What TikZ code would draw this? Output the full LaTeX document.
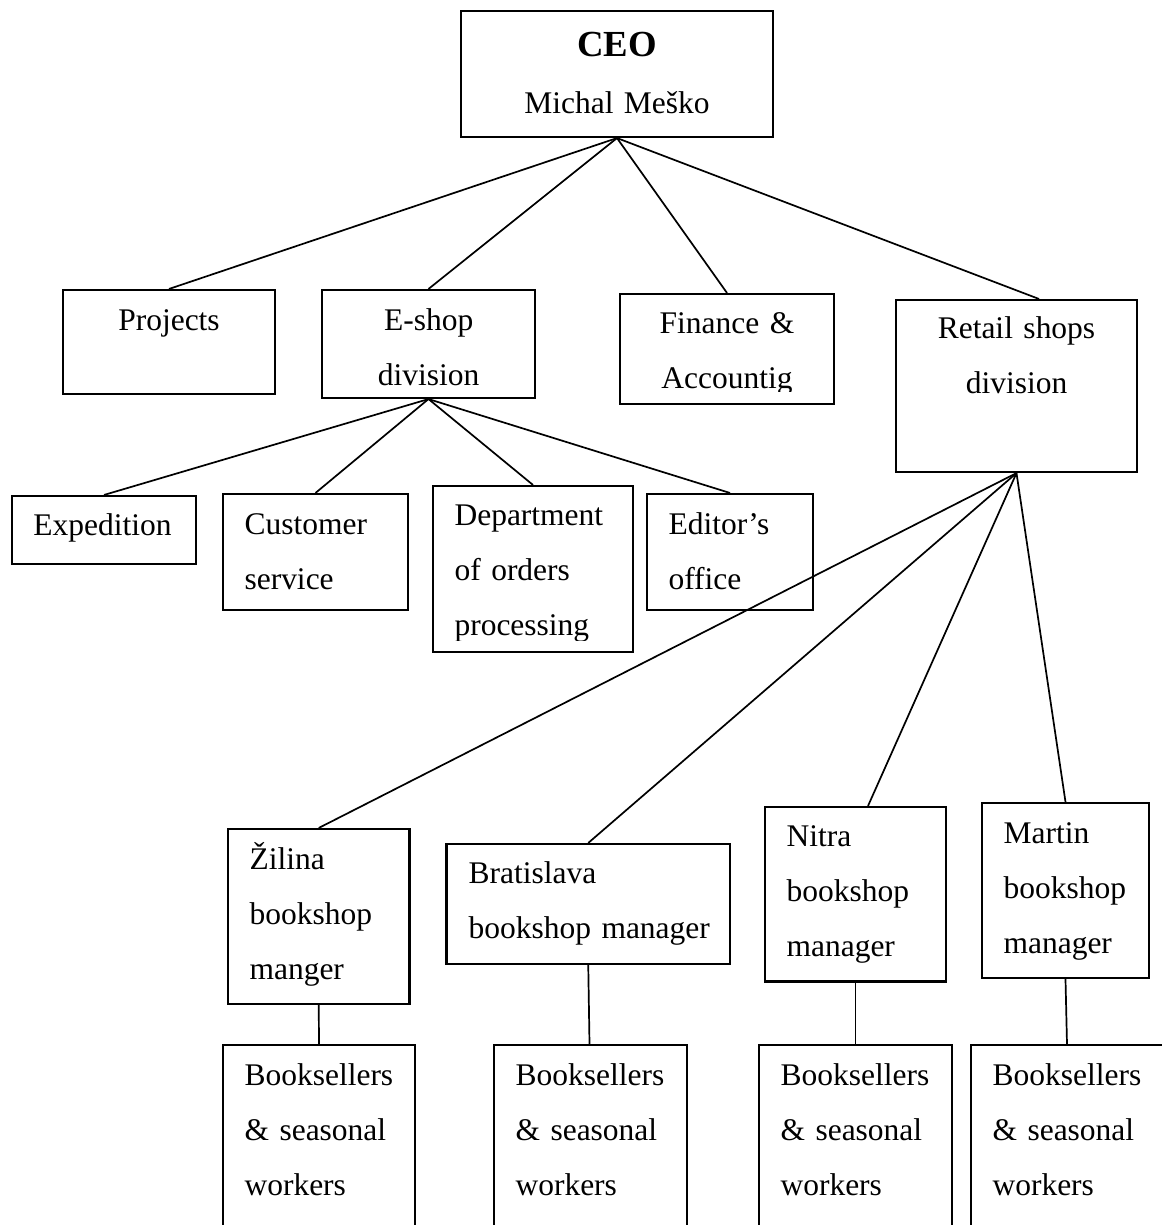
\documentclass[tikz,border=0pt]{standalone}
\usepackage{fontspec}
\setmainfont{Liberation Serif}
\usetikzlibrary{fit, calc}

\tikzset{
  box/.style={draw, rectangle, line width=0.8pt, inner sep=0pt},
  txt/.style={inner sep=0pt, text width=100pt, align=left, anchor=base west},
  ctxt/.style={inner sep=0pt, text width=150pt, align=center, anchor=base},
  link/.style={line width=0.65pt}
}

\begin{document}
\begin{tikzpicture}[x=0.381pt, y=-0.381pt, font=\fontsize{12}{21}\selectfont]
\useasboundingbox (0,0) rectangle (1162,1225);
\clip (0,0) rectangle (1162,1225);

\node[box, fit={(461,11) (773,137)}] (ceo) {};
\node[box, fit={(63,290) (275,394)}] (proj) {};
\node[box, fit={(322,290) (535,398)}] (eshop) {};
\node[box, fit={(620,294) (834,404)}] (fin) {};
\node[box, fit={(896,300) (1137,472)}] (retail) {};
\node[box, fit={(12,496) (196,564)}] (exped) {};
\node[box, fit={(223,494) (408,610)}] (cust) {};
\node[box, fit={(433,486) (633,652)}] (dept) {};
\node[box, fit={(647,494) (813,610)}] (edit) {};
\node[box, fit={(228,829) (409.5,1004)}] (zilina) {};
\node[box, fit={(446.5,844) (730,964)}] (brat) {};
\node[box, fit={(765,807) (946,981.5)}] (nitra) {};
\node[box, fit={(982,803) (1149,978)}] (martin) {};
\foreach \i/\l/\r in {1/223/415, 2/494/687, 3/759/952, 4/971/1163}
  \node[box, fit={(\l,1045) (\r,1250)}] (bs\i) {};

\node[ctxt] (ceotxt) at (617,56) {{\fontsize{14}{21}\selectfont\bfseries CEO}\\[1pt]Michal Meško};
\node[ctxt] (projtxt) at (169,330) {Projects};
\node[ctxt] (eshoptxt) at (428.7,330) {E-shop\\division};
\begin{scope}
\clip (620,294) rectangle (834,391);
\node[ctxt] (fintxt) at (727,333) {Finance \&\\Accountig};
\end{scope}
\node[ctxt] (retailtxt) at (1016.5,338.5) {Retail shops\\division};
\node[ctxt] (expedtxt) at (102.5,535) {Expedition};
\node[txt] (custtxt) at (244,534) {Customer\\service};
\begin{scope}
\clip (433,486) rectangle (633,640);
\node[txt] (depttxt) at (454,525) {Department\\of orders\\processing};
\end{scope}
\node[txt] (edittxt) at (668,534) {Editor’s\\office};
\node[txt] (zilinatxt) at (249,869) {Žilina\\bookshop\\manger};
\node[txt] (brattxt) at (468,883.5) {Bratislava\\bookshop manager};
\node[txt] (nitratxt) at (786,846) {Nitra\\bookshop\\manager};
\node[txt] (martintxt) at (1003,843) {Martin\\bookshop\\manager};
\foreach \i/\x in {1/244, 2/515, 3/780, 4/992}
  \node[txt] (bstxt\i) at (\x,1085) {Booksellers\\\& seasonal\\workers};

\foreach \n in {proj, eshop, fin}
  \draw[link] (ceo.south) -- (\n.north);
\draw[link] (ceo.south) -- ($(retail.north)+(22.5,0)$);
\foreach \n in {exped, cust, dept, edit}
  \draw[link] (eshop.south) -- (\n.north);
\foreach \n in {zilina, brat, martin}
  \draw[link] (retail.south) -- (\n.north);
\draw[link] (retail.south) -- ($(nitra.north)+(12.5,0)$);
\draw[link] (zilina.south) -- (bs1.north);
\draw[link] (brat.south) -- ($(bs2.north)+(-1,0)$);
\draw[link] (nitra.south) -- (bs3.north);
\draw[link] (martin.south) -- (bs4.north);

\end{tikzpicture}
\end{document}
